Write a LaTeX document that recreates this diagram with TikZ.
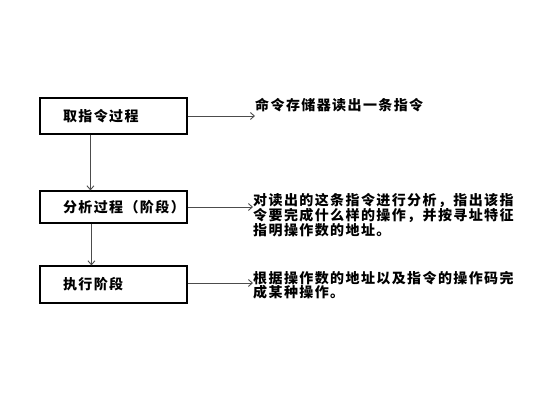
\documentclass[tikz,border=0pt]{standalone}
\usepackage{fontspec}
\setmainfont{Noto Sans CJK SC}[LetterSpace=10]
\usepackage{tikz}
\usetikzlibrary{positioning}
\usetikzlibrary{arrows.meta}

\tikzset{
  stage/.style={draw, line width=1.1pt, minimum width=147pt, minimum height=36pt,
    inner xsep=23pt, text width=101pt, align=left, font=\bfseries\fontsize{14}{14}\selectfont},
  note/.style={inner sep=0pt, align=left, font=\bfseries\fontsize{14}{13.8}\selectfont},
  conn/.style={draw=black!70, line width=0.9pt, -{Straight Barb[length=4pt,width=7pt]}}
}

\begin{document}
\begin{tikzpicture}[
    x=1pt,
    y=-1pt
]
  \useasboundingbox (0,0) rectangle (536,419);
  % stages
  \node[stage] (b1) at (113.5,116) {取指令过程};
  \node[stage, minimum height=32pt] (b2) at (113.5,207) {\raisebox{2pt}{分析过程（阶段）}};
  \node[stage, minimum height=37pt] (b3) at (113.5,284.5) {\raisebox{3pt}{执行阶段}};
  % notes
  \node[note, anchor=west] (t1) at (255,105) {命令存储器读出一条指令};
  \node[note, anchor=north west] (t2) at (253,193) {对读出的这条指令进行分析，指出该指\\令要完成什么样的操作，并按寻址特征\\指明操作数的地址。};
  \node[note, anchor=north west] (t3) at (253,271) {根据操作数的地址以及指令的操作码完\\成某种操作。};
  % arrows
  \draw[conn] (b1.east) -- (b1.east -| t1.west);
  \draw[conn] (b2.east) -- (b2.east -| t2.west);
  \draw[conn] ([yshift=1.5pt]b3.east) -- ([yshift=1.5pt]b3.east -| t3.west);
  \draw[conn] ([xshift=51pt]b1.south west) -- ([xshift=51pt]b2.north west);
  \draw[conn] ([xshift=52pt]b2.south west) -- ([xshift=52pt]b3.north west);
\end{tikzpicture}
\end{document}
